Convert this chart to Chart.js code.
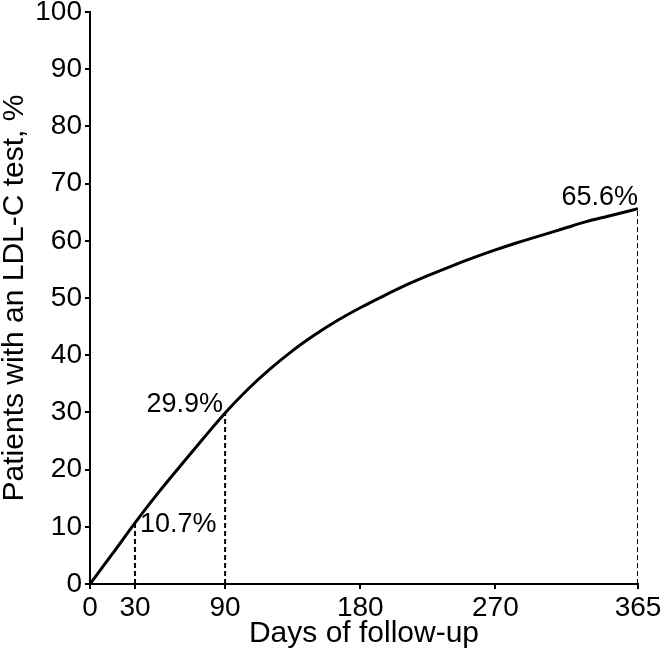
<!DOCTYPE html>
<html>
<head>
<meta charset="utf-8">
<script src="https://cdn.jsdelivr.net/npm/chart.js@4"></script>
<style>
  body { margin: 0; background: #fff; }
  canvas { display: block; }
</style>
</head>
<body>
<canvas id="myChart" width="666" height="653"></canvas>
<script>
// curve
const dias = [0, 15, 30, 45, 60, 75, 90, 105, 120, 135, 150, 165, 180, 195, 210, 225, 240, 255, 270, 285, 300, 315, 330, 345, 365]
const porcentaje = [0, 5.3, 10.7, 15.8, 20.6, 25.3, 29.9, 34.0, 37.6, 40.8, 43.6, 46.1, 48.3, 50.3, 52.2, 53.9, 55.5, 57.0, 58.4, 59.7, 60.9, 62.1, 63.3, 64.3, 65.6]

// marked points with dashed drop lines
const marcaDias = [30, 90, 365]
const marcaValores = [10.7, 29.9, 65.6]
const marcaTextos = ['10.7%', '29.9%', '65.6%']

const xTicks = [0, 30, 90, 180, 270, 365]
const yTicks = [0, 10, 20, 30, 40, 50, 60, 70, 80, 90, 100]

const fuente = '"Liberation Sans", Arial, Helvetica, sans-serif'

const $grafica = document.getElementById('myChart')

let datasets = []
for (let i = 0; i < marcaDias.length; i++) {
  datasets.push({
    data: [{x: marcaDias[i], y: 0}, {x: marcaDias[i], y: marcaValores[i]}],
    borderColor: '#000',
    borderWidth: 2,
    borderDash: [5, 3],
    pointRadius: 0,
    fill: false
  })
}
datasets.push({
  data: dias.map((d, i) => ({x: d, y: porcentaje[i]})),
  borderColor: '#000',
  borderWidth: 3,
  pointRadius: 0,
  cubicInterpolationMode: 'monotone',
  fill: false
})

// text next to the marked points
const etiquetas = {
  id: 'etiquetas',
  afterDatasetsDraw(chart) {
    const ctx = chart.ctx
    const x = chart.scales.x
    const y = chart.scales.y
    ctx.save()
    ctx.fillStyle = '#000'
    ctx.font = '27px ' + fuente
    for (let i = 0; i < marcaDias.length; i++) {
      let px = x.getPixelForValue(marcaDias[i])
      let py = y.getPixelForValue(marcaValores[i])
      if (i == 0) {
        ctx.textAlign = 'left'
        ctx.textBaseline = 'middle'
        ctx.fillText(marcaTextos[i], px + 5, py + 2)
      } else if (i == 1) {
        ctx.textAlign = 'right'
        ctx.textBaseline = 'alphabetic'
        ctx.fillText(marcaTextos[i], px - 2, py - 1)
      } else {
        ctx.textAlign = 'right'
        ctx.textBaseline = 'alphabetic'
        ctx.fillText(marcaTextos[i], px, py - 4)
      }
    }
    ctx.restore()
  }
}

const myChart = new Chart($grafica, {
  type: 'line',
  data: { datasets: datasets },
  plugins: [etiquetas],
  options: {
    responsive: false,
    animation: false,
    devicePixelRatio: 1,
    layout: { padding: { top: 12, right: 28, left: 0, bottom: 0 } },
    plugins: {
      legend: { display: false },
      tooltip: { enabled: false }
    },
    scales: {
      x: {
        type: 'linear',
        min: 0,
        max: 365,
        afterBuildTicks: s => { s.ticks = xTicks.map(v => ({value: v})) },
        afterFit: s => { s.height = 69; s.paddingLeft = 0; s.paddingRight = 0 },
        border: { color: '#000', width: 2 },
        grid: { drawOnChartArea: false, color: '#000', lineWidth: 2, tickLength: 5 },
        ticks: { color: '#000', font: { size: 28, family: fuente }, padding: 2, maxRotation: 0, autoSkip: false },
        title: { display: true, text: 'Days of follow-up', color: '#000', font: { size: 30, family: fuente, lineHeight: 1 }, padding: { top: 0, bottom: 4 } }
      },
      y: {
        min: 0,
        max: 100,
        afterBuildTicks: s => { s.ticks = yTicks.map(v => ({value: v})) },
        afterFit: s => { s.width = 90; s.paddingTop = 0; s.paddingBottom = 0 },
        border: { color: '#000', width: 2 },
        grid: { drawOnChartArea: false, color: '#000', lineWidth: 2, tickLength: 5 },
        ticks: { color: '#000', font: { size: 28, family: fuente }, padding: 3, autoSkip: false },
        title: { display: true, text: 'Patients with an LDL-C test, %', color: '#000', font: { size: 30, family: fuente, lineHeight: 1 }, padding: 0 }
      }
    }
  }
})
</script>
</body>
</html>
